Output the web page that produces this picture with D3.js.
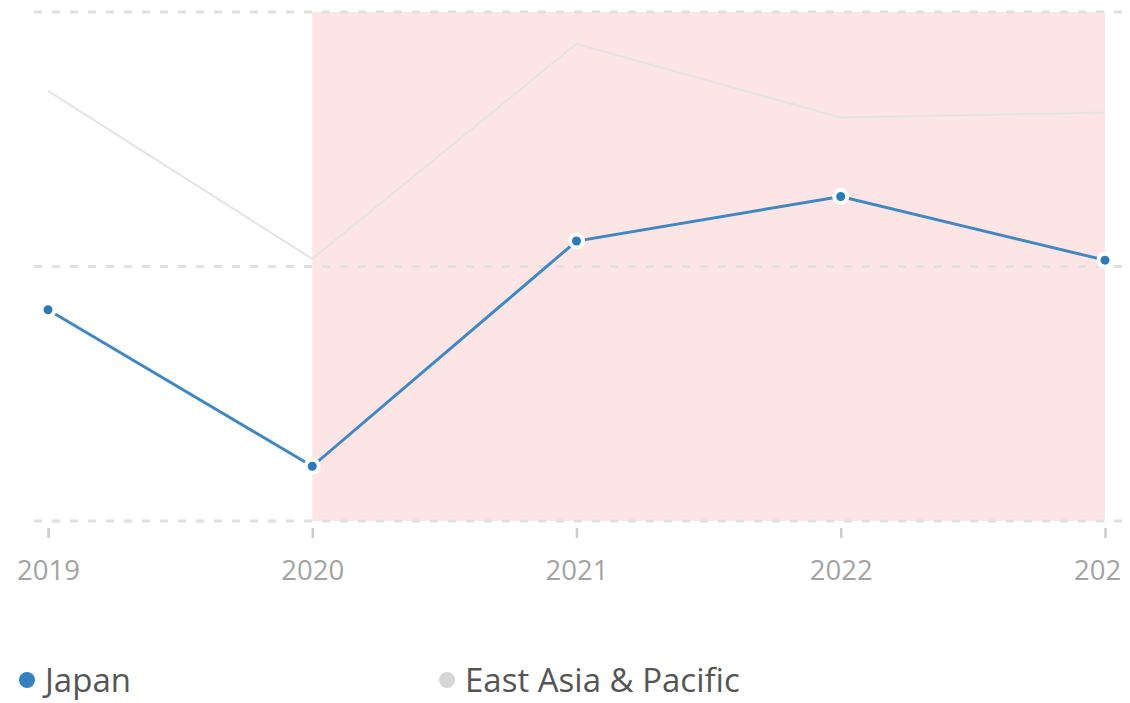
<!DOCTYPE html>
<html>
<head>
<meta charset="utf-8">
<script src="https://cdn.jsdelivr.net/npm/d3@7"></script>
<style>
  body { margin: 0; background: #fff; }
  svg { display: block; font-family: "Open Sans", sans-serif; }
</style>
</head>
<body>
<div id="chart"></div>
<script>
// data
var years = [2019, 2020, 2021, 2022, 2023];
var japan = [1.66, 0.43, 2.20, 2.55, 2.05];
var eastAsia = [3.38, 2.06, 3.75, 3.17, 3.21];
var yTicks = [0, 2, 4];
var shadeRange = [2020, 2023];
var seriesNames = ["Japan", "East Asia & Pacific"];
var seriesColors = ["#3483c0", "#d6d6d6"];

var width = 1130, height = 703;

var svg = d3.select("#chart")
    .append("svg")
    .attr("width", width)
    .attr("height", height);

// the original plot area stops a bit short of the window, cutting the last year label
svg.append("clipPath")
    .attr("id", "axisClip")
    .append("rect")
    .attr("x", 0)
    .attr("y", 0)
    .attr("width", 1121)
    .attr("height", height);

var x = d3.scaleLinear()
    .domain([2019, 2023])
    .range([48, 1105]);

var y = d3.scaleLinear()
    .domain([0, 4])
    .range([521, 12]);

// shaded period
svg.append("rect")
    .attr("x", x(shadeRange[0]))
    .attr("y", y(4))
    .attr("width", x(shadeRange[1]) - x(shadeRange[0]))
    .attr("height", y(0) - y(4))
    .style("fill", "#fde5e5");

// dashed grid lines
svg.append("g")
    .selectAll("line")
    .data(yTicks)
    .enter()
    .append("line")
    .attr("x1", 34)
    .attr("x2", width)
    .attr("y1", function(d) { return y(d); })
    .attr("y2", function(d) { return y(d); })
    .style("stroke", "#e0e0e0")
    .style("stroke-width", 3)
    .style("stroke-dasharray", "8,10");

// x axis: ticks + labels
var xAxis = d3.axisBottom(x)
    .tickValues(years)
    .tickFormat(d3.format("d"))
    .tickSize(10)
    .tickPadding(22);

var axisWrap = svg.append("g")
    .attr("clip-path", "url(#axisClip)");

var axisG = axisWrap.append("g")
    .attr("transform", "translate(0," + (y(0) + 7) + ")")
    .call(xAxis);

axisG.select(".domain").remove();
axisG.selectAll(".tick line")
    .style("stroke", "#cccccc")
    .style("stroke-width", 2.5);
axisG.selectAll(".tick text")
    .style("font-family", "'Open Sans', sans-serif")
    .style("font-size", "27.5px")
    .style("fill", "#a3a3a3");

var line = d3.line()
    .x(function(d, i) { return x(years[i]); })
    .y(function(d) { return y(d); });

// East Asia & Pacific (faint)
svg.append("path")
    .datum(eastAsia)
    .attr("d", line)
    .style("fill", "none")
    .style("stroke", "#e3e3e3")
    .style("stroke-width", 2);

// Japan
svg.append("path")
    .datum(japan)
    .attr("d", line)
    .style("fill", "none")
    .style("stroke", "#3e88c3")
    .style("stroke-width", 3);

var pts = svg.append("g")
    .selectAll("g")
    .data(japan)
    .enter()
    .append("g")
    .attr("transform", function(d, i) { return "translate(" + x(years[i]) + "," + y(d) + ")"; });

pts.append("circle")
    .attr("r", 8.5)
    .style("fill", "#fff");
pts.append("circle")
    .attr("r", 4.5)
    .style("fill", "#2b7bba");

// legend
var legendX = [27, 447];
var legend = svg.append("g")
    .selectAll("g")
    .data(seriesNames)
    .enter()
    .append("g")
    .attr("transform", function(d, i) { return "translate(" + legendX[i] + ",680)"; });

legend.append("circle")
    .attr("r", 8)
    .style("fill", function(d, i) { return seriesColors[i]; });

legend.append("text")
    .attr("x", 18)
    .attr("dy", "0.35em")
    .style("font-size", "33px")
    .style("fill", "#555")
    .text(function(d) { return d; });
</script>
</body>
</html>
